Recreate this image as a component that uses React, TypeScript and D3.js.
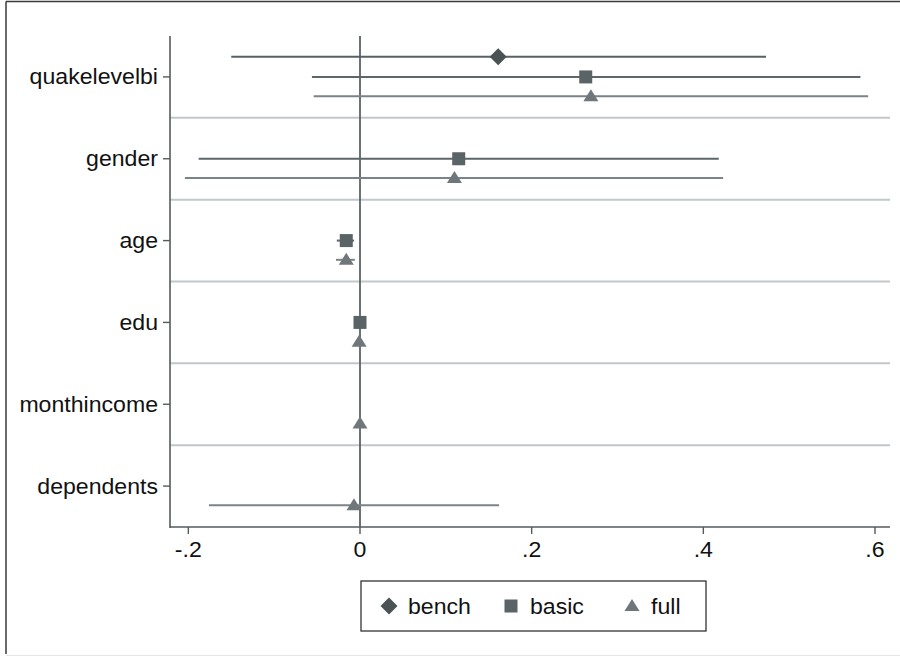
import React from "react";
import * as d3 from "d3";

const categories = ["quakelevelbi", "gender", "age", "edu", "monthincome", "dependents"];
const models = ["bench", "basic", "full"];

// [category, estimate, lower, upper]
const benchValues: [string, number, number, number][] = [
  ["quakelevelbi", 0.161, -0.150, 0.473],
];
const basicValues: [string, number, number, number][] = [
  ["quakelevelbi", 0.263, -0.056, 0.583],
  ["gender", 0.115, -0.188, 0.418],
  ["age", -0.016, -0.027, -0.007],
  ["edu", 0.0, -0.002, 0.002],
];
const fullValues: [string, number, number, number][] = [
  ["quakelevelbi", 0.269, -0.054, 0.592],
  ["gender", 0.110, -0.204, 0.423],
  ["age", -0.016, -0.028, -0.006],
  ["edu", -0.001, -0.003, 0.001],
  ["monthincome", 0.0, -0.0005, 0.0005],
  ["dependents", -0.007, -0.176, 0.162],
];
const xTicks = [-0.2, 0, 0.2, 0.4, 0.6];
const xTickLabels = ["-.2", "0", ".2", ".4", ".6"];

const FONT = "'Liberation Sans', Arial, Helvetica, sans-serif";
const SX = 1.05;

const styles: Record<string, { line: string; fill: string; offset: number }> = {
  bench: { line: "#596164", fill: "#4a5254", offset: -0.245 },
  basic: { line: "#5d6669", fill: "#5a6366", offset: 0 },
  full: { line: "#7b8386", fill: "#6f777a", offset: 0.235 },
};

function Txt({ x, y, anchor, children }: { x: number; y: number; anchor: string; children: React.ReactNode }) {
  return (
    <g transform={`translate(${x},${y}) scale(${SX},1)`}>
      <text x={0} y={0} textAnchor={anchor} fontFamily={FONT} fontSize={22} fill="#111">
        {children}
      </text>
    </g>
  );
}

function Marker({ model, x, y }: { model: string; x: number; y: number }) {
  const fill = styles[model].fill;
  if (model === "bench") {
    return <path d={`M${x},${y - 8.5} L${x + 8.5},${y} L${x},${y + 8.5} L${x - 8.5},${y} Z`} fill={fill} />;
  }
  if (model === "basic") {
    return <rect x={x - 6.5} y={y - 6.5} width={13} height={13} fill={fill} />;
  }
  return <path d={`M${x},${y - 7} L${x + 7.5},${y + 5} L${x - 7.5},${y + 5} Z`} fill={fill} />;
}

export default function App() {
  const W = 900;
  const H = 656;
  const left = 170;
  const right = 890;
  const top = 36;
  const bottom = 527;

  const x = d3.scaleLinear().domain([0, 0.6]).range([360, 875]);
  const y = d3.scalePoint<string>().domain(categories).range([top, bottom]).padding(0.5);
  const step = y.step();

  const seriesData: Record<string, [string, number, number, number][]> = {
    bench: benchValues,
    basic: basicValues,
    full: fullValues,
  };

  const separators = categories.slice(0, -1).map((c) => (y(c) as number) + step / 2);

  return (
    <svg
      width={W}
      height={H}
      style={{ position: "absolute", left: 0, top: 0, background: "#fff" }}
    >
      <rect x={0} y={0} width={W} height={H} fill="#fff" />
      {/* outer frame */}
      <line x1={6} y1={1.5} x2={W} y2={1.5} stroke="#3a3a3a" strokeWidth={1.5} />
      <line x1={6} y1={1.5} x2={6} y2={654} stroke="#3a3a3a" strokeWidth={1.5} />
      <line x1={6} y1={655.5} x2={W} y2={655.5} stroke="#e6e6e6" strokeWidth={1} />

      {/* separators */}
      {separators.map((s, i) => (
        <line key={i} x1={left} x2={right} y1={s} y2={s} stroke="#c3c7ca" strokeWidth={2} />
      ))}

      {/* zero line */}
      <line x1={x(0)} x2={x(0)} y1={top} y2={bottom} stroke="#5b6366" strokeWidth={1.8} />

      {/* CIs and markers */}
      {models.map((m) =>
        seriesData[m].map(([c, est, lo, hi]) => {
          const yy = (y(c) as number) + styles[m].offset * step;
          return (
            <g key={m + c}>
              <line x1={x(lo)} x2={x(hi)} y1={yy} y2={yy} stroke={styles[m].line} strokeWidth={2} />
              <Marker model={m} x={x(est)} y={yy} />
            </g>
          );
        })
      )}

      {/* axes */}
      <line x1={left} x2={left} y1={top} y2={bottom + 1} stroke="#555a5c" strokeWidth={1.6} />
      <line x1={left} x2={right} y1={bottom} y2={bottom} stroke="#555a5c" strokeWidth={1.6} />
      {categories.map((c) => (
        <g key={c}>
          <line x1={left - 7} x2={left} y1={y(c)} y2={y(c)} stroke="#555a5c" strokeWidth={1.4} />
          <Txt x={left - 12} y={(y(c) as number) + 7.5} anchor="end">
            {c}
          </Txt>
        </g>
      ))}
      {xTicks.map((t, i) => (
        <g key={t}>
          <line x1={x(t)} x2={x(t)} y1={bottom} y2={bottom + 7} stroke="#555a5c" strokeWidth={1.4} />
          <Txt x={x(t)} y={557} anchor="middle">
            {xTickLabels[i]}
          </Txt>
        </g>
      ))}

      {/* legend */}
      <rect x={361} y={581} width={345} height={50} fill="#fff" stroke="#222" strokeWidth={1.2} />
      {models.map((m, i) => {
        const mx = [389, 511, 632][i];
        return (
          <g key={m}>
            <Marker model={m} x={mx} y={606} />
            <Txt x={mx + 19} y={613.5} anchor="start">
              {m}
            </Txt>
          </g>
        );
      })}
    </svg>
  );
}
